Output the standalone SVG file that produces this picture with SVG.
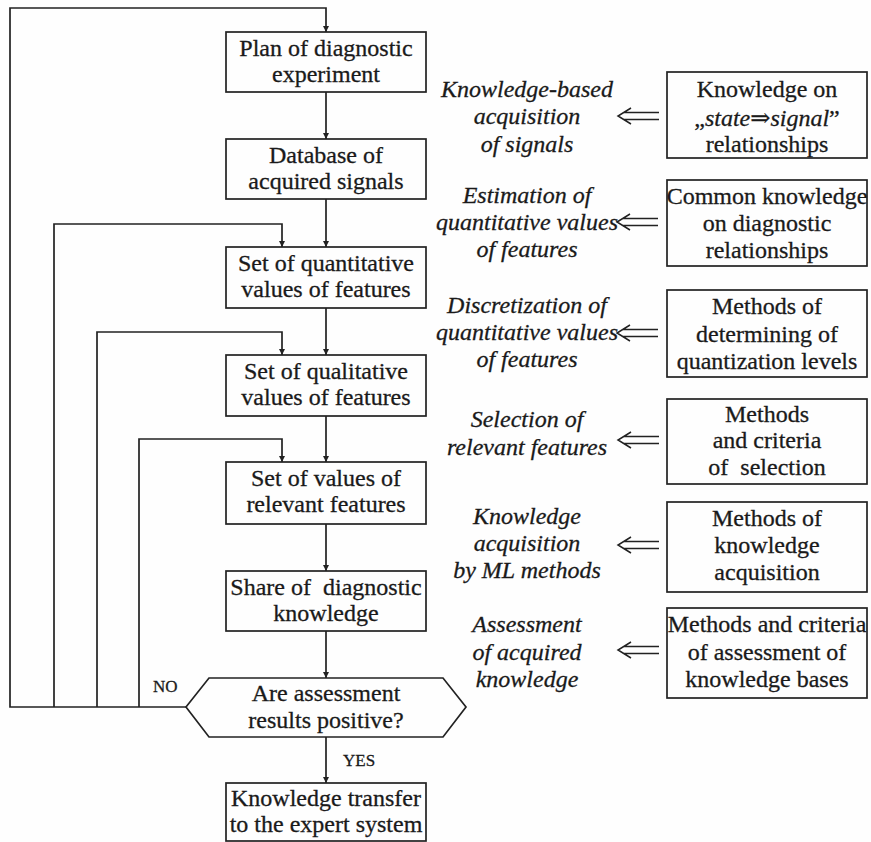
<svg xmlns="http://www.w3.org/2000/svg" width="871" height="842" viewBox="0 0 871 842" font-family="'Liberation Serif', 'DejaVu Serif', serif">
<style>
text{font-family:'Liberation Serif','DejaVu Serif',serif;font-size:24px;fill:#1a1a1a;stroke:#1a1a1a;stroke-width:0.3;text-anchor:middle}
.it{font-style:italic}
.sm{font-size:17px;text-anchor:start}
.box{fill:none;stroke:#222;stroke-width:1.7}
.ln{fill:none;stroke:#222;stroke-width:1.7}
.dbl{fill:none;stroke:#222;stroke-width:1.5}
</style>
<defs>
<marker id="ah" viewBox="0 0 10 10" refX="10" refY="5" markerWidth="6" markerHeight="9" markerUnits="userSpaceOnUse" orient="auto">
<path d="M0,0 L10,5 L0,10 z" fill="#222"/>
</marker>
<path id="darr" d="M13,-8 L0,0 L13,8 M6,-3.5 H41 M6,3.5 H41"/>
</defs>
<rect width="871" height="842" fill="#fefefe"/>

<g id="connectors">
<path class="ln" d="M326,92 V139" marker-end="url(#ah)"/>
<path class="ln" d="M326,199 V247" marker-end="url(#ah)"/>
<path class="ln" d="M326,308 V355" marker-end="url(#ah)"/>
<path class="ln" d="M326,416 V462" marker-end="url(#ah)"/>
<path class="ln" d="M326,524 V571" marker-end="url(#ah)"/>
<path class="ln" d="M326,631 V678" marker-end="url(#ah)"/>
<path class="ln" d="M326,737 V783" marker-end="url(#ah)"/>
<path class="ln" d="M186,707 H10 V8 H326 V32" marker-end="url(#ah)"/>
<path class="ln" d="M54,707 V224 H282 V247" marker-end="url(#ah)"/>
<path class="ln" d="M97,707 V332 H282 V355" marker-end="url(#ah)"/>
<path class="ln" d="M139,707 V439 H282 V462" marker-end="url(#ah)"/>
<text class="sm" x="153" y="692">NO</text>
<text class="sm" x="343" y="766">YES</text>
<use href="#darr" class="dbl" x="618" y="116"/>
<use href="#darr" class="dbl" x="617" y="222"/>
<use href="#darr" class="dbl" x="617" y="333"/>
<use href="#darr" class="dbl" x="618" y="440"/>
<use href="#darr" class="dbl" x="618" y="545"/>
<use href="#darr" class="dbl" x="618" y="650"/>
</g>

<g id="plan">
<rect class="box" x="226" y="32" width="200" height="60"/>
<text x="326" y="56">Plan of diagnostic</text>
<text x="326" y="82">experiment</text>
</g>
<g id="database">
<rect class="box" x="226" y="139" width="200" height="60"/>
<text x="326" y="163">Database of</text>
<text x="326" y="189">acquired signals</text>
</g>
<g id="quantitative">
<rect class="box" x="226" y="247" width="200" height="61"/>
<text x="326" y="271">Set of quantitative</text>
<text x="326" y="297">values of features</text>
</g>
<g id="qualitative">
<rect class="box" x="226" y="355" width="200" height="61"/>
<text x="326" y="379">Set of qualitative</text>
<text x="326" y="405">values of features</text>
</g>
<g id="relevant">
<rect class="box" x="226" y="462" width="200" height="62"/>
<text x="326" y="486">Set of values of</text>
<text x="326" y="512">relevant features</text>
</g>
<g id="share">
<rect class="box" x="226" y="571" width="200" height="60"/>
<text x="326" y="595" xml:space="preserve">Share of  diagnostic</text>
<text x="326" y="621">knowledge</text>
</g>
<g id="decision">
<polygon class="box" points="186,707 209,678 443,678 466,707 443,737 209,737"/>
<text x="326" y="701">Are assessment</text>
<text x="326" y="728">results positive?</text>
</g>
<g id="transfer">
<rect class="box" x="226" y="783" width="200" height="58"/>
<text x="326" y="806">Knowledge transfer</text>
<text x="326" y="832">to the expert system</text>
</g>

<g id="label1">
<text class="it" x="527" y="97">Knowledge-based</text>
<text class="it" x="527" y="124">acquisition</text>
<text class="it" x="527" y="152">of signals</text>
</g>
<g id="label2">
<text class="it" x="527" y="203">Estimation of</text>
<text class="it" x="527" y="230">quantitative values</text>
<text class="it" x="527" y="257">of features</text>
</g>
<g id="label3">
<text class="it" x="527" y="313">Discretization of</text>
<text class="it" x="527" y="340">quantitative values</text>
<text class="it" x="527" y="367">of features</text>
</g>
<g id="label4">
<text class="it" x="527" y="427">Selection of</text>
<text class="it" x="527" y="455">relevant features</text>
</g>
<g id="label5">
<text class="it" x="527" y="524">Knowledge</text>
<text class="it" x="527" y="551">acquisition</text>
<text class="it" x="527" y="578">by ML methods</text>
</g>
<g id="label6">
<text class="it" x="527" y="632">Assessment</text>
<text class="it" x="527" y="660">of acquired</text>
<text class="it" x="527" y="687">knowledge</text>
</g>

<g id="r1">
<rect class="box" x="667" y="72" width="200" height="86"/>
<text x="767" y="97">Knowledge on</text>
<text x="767" y="126">„<tspan class="it">state⇒signal</tspan>”</text>
<text x="767" y="152">relationships</text>
</g>
<g id="r2">
<rect class="box" x="667" y="180" width="200" height="86"/>
<text x="767" y="204">Common knowledge</text>
<text x="767" y="231">on diagnostic</text>
<text x="767" y="258">relationships</text>
</g>
<g id="r3">
<rect class="box" x="667" y="290" width="200" height="87"/>
<text x="767" y="314">Methods of</text>
<text x="767" y="342">determining of</text>
<text x="767" y="369">quantization levels</text>
</g>
<g id="r4">
<rect class="box" x="667" y="399" width="200" height="85"/>
<text x="767" y="422">Methods</text>
<text x="767" y="448">and criteria</text>
<text x="767" y="475" xml:space="preserve">of  selection</text>
</g>
<g id="r5">
<rect class="box" x="667" y="502" width="200" height="90"/>
<text x="767" y="526">Methods of</text>
<text x="767" y="553">knowledge</text>
<text x="767" y="580">acquisition</text>
</g>
<g id="r6">
<rect class="box" x="667" y="608" width="200" height="90"/>
<text x="767" y="632">Methods and criteria</text>
<text x="767" y="660">of assessment of</text>
<text x="767" y="687">knowledge bases</text>
</g>
</svg>
